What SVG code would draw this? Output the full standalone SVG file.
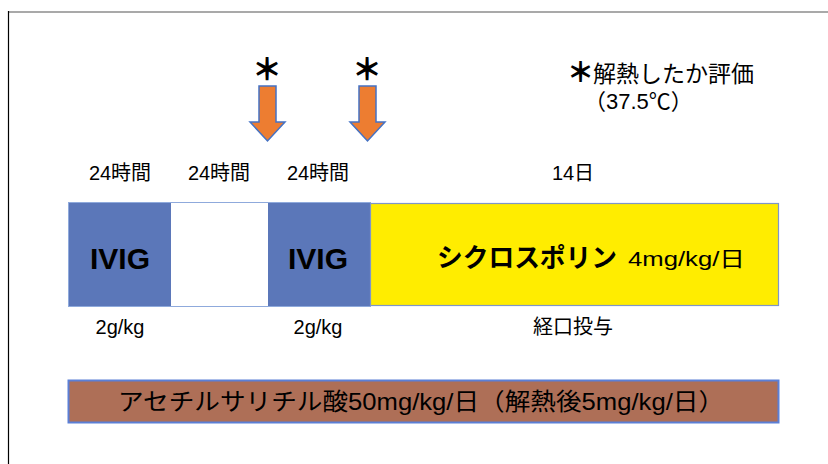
<svg xmlns="http://www.w3.org/2000/svg" width="828" height="464" viewBox="0 0 828 464">
<style>
text{font-family:"Liberation Sans","Noto Sans CJK JP",sans-serif;fill:#000}
.lbl{font-size:20px;text-anchor:middle}
.big{font-size:30px;font-weight:bold;text-anchor:middle}
.arrow{fill:#ed7d31;stroke:#4472c4;stroke-width:1.5;stroke-linejoin:miter}
.ast{font-family:"Noto Sans CJK JP",sans-serif;font-size:30px;font-weight:900;text-anchor:middle}
</style>
<rect width="828" height="464" fill="#fff"/>
<g id="frame">
<line x1="8.5" y1="12" x2="828" y2="12" stroke="#8c8c8c" stroke-width="1.5"/>
<line x1="8.5" y1="11" x2="8.5" y2="464" stroke="#000" stroke-width="1.2"/>
</g>
<g id="marker1">
<text class="ast" x="267" y="80">＊</text>
<path class="arrow" d="M259,86 H276 V122 H285 L267.5,141 L250,122 H259 Z"/>
</g>
<g id="marker2">
<text class="ast" x="367" y="80">＊</text>
<path class="arrow" d="M359,86 H376 V122 H385 L367.5,141 L350,122 H359 Z"/>
</g>
<g id="legend">
<text x="567" y="82" font-size="23"><tspan font-family="Noto Sans CJK JP,sans-serif" font-weight="900" font-size="27">＊</tspan><tspan dx="-1">解熱したか評価</tspan></text>
<text x="584" y="109" font-size="22">（37.5℃）</text>
</g>
<g id="labels-top">
<text class="lbl" x="120" y="180">24時間</text>
<text class="lbl" x="219" y="180">24時間</text>
<text class="lbl" x="318" y="180">24時間</text>
<text class="lbl" x="573" y="180">14日</text>
</g>
<g id="ivig1">
<rect x="69" y="203" width="102" height="103" fill="#5b77b9"/>
<text class="big" x="120" y="269">IVIG</text>
</g>
<g id="gap">
<rect x="171" y="203" width="97" height="103" fill="#fff"/>
</g>
<g id="ivig2">
<rect x="268" y="203" width="102" height="103" fill="#5b77b9"/>
<text class="big" x="318" y="269">IVIG</text>
</g>
<rect x="68.5" y="202.5" width="302" height="104" fill="none" stroke="#8faadc" stroke-width="1"/>
<g id="cyclosporin">
<rect x="370.5" y="203.5" width="408" height="102" fill="#ffed00" stroke="#7f96c8" stroke-width="1.2"/>
<text x="437" y="267" font-size="26" font-weight="bold" textLength="180" lengthAdjust="spacingAndGlyphs">シクロスポリン</text>
<text x="628" y="266" font-size="21" textLength="117" lengthAdjust="spacingAndGlyphs">4mg/kg/日</text>
</g>
<g id="labels-bottom">
<text class="lbl" x="120" y="334">2g/kg</text>
<text class="lbl" x="318" y="334">2g/kg</text>
<text class="lbl" x="573" y="334">経口投与</text>
</g>
<g id="aspirin">
<rect x="68.5" y="380.5" width="710" height="42" fill="#ae6f57" stroke="#5b7fd6" stroke-width="2"/>
<text x="118" y="410" font-size="24" textLength="606" lengthAdjust="spacingAndGlyphs">アセチルサリチル酸50mg/kg/日（解熱後5mg/kg/日）</text>
</g>
<g id="connectors"/>
</svg>
